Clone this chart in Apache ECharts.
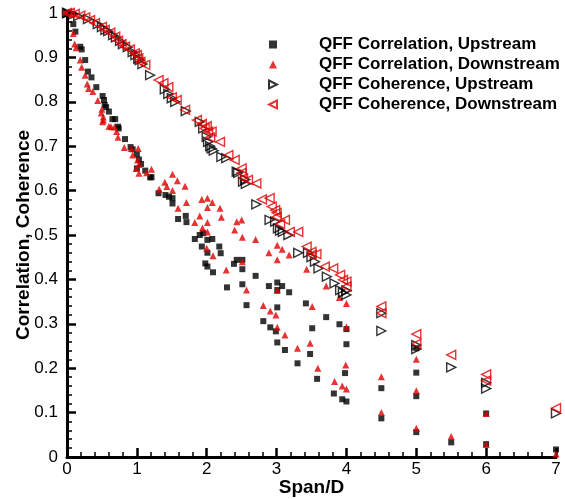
<!DOCTYPE html>
<html>
<head>
<meta charset="utf-8">
<script src="https://cdn.jsdelivr.net/npm/echarts@6/dist/echarts.min.js"></script>
<style>
html,body{margin:0;padding:0;background:#fff;}
#chart{width:565px;height:499px;}
</style>
</head>
<body>
<div id="chart"></div>
<script>
var seriesNames = ['QFF Correlation, Upstream','QFF Correlation, Downstream','QFF Coherence, Upstream','QFF Coherence, Downstream'];
var xTicks = [0,1,2,3,4,5,6,7];

var corrUp = [
[0,1],[0.09,0.975],[0.12,0.958],[0.19,0.924],[0.21,0.918],[0.26,0.894],[0.30,0.868],[0.35,0.855],[0.42,0.833],[0.51,0.813],[0.53,0.804],[0.54,0.793],[0.56,0.788],[0.60,0.778],[0.65,0.761],[0.69,0.761],[0.73,0.744],[0.74,0.740],[0.83,0.716],[0.91,0.698],[0.94,0.693],[1.00,0.682],[1.03,0.670],[1.06,0.660],[1.00,0.650],[1.12,0.645],[1.19,0.630],[1.21,0.630],
[1.31,0.594],[1.41,0.590],[1.46,0.586],[1.51,0.583],[1.51,0.571],[1.59,0.536],[1.70,0.543],[1.71,0.529],[1.83,0.491],[1.90,0.500],[1.95,0.504],[2.08,0.491],[2.01,0.489],[1.93,0.474],[2.18,0.474],[2.01,0.460],[2.20,0.459],[1.98,0.436],[2.01,0.429],[2.09,0.416],[2.43,0.444],[2.39,0.435],[2.51,0.444],[2.51,0.423],
[2.70,0.408],[2.51,0.389],[2.29,0.382],[2.89,0.385],[3.01,0.393],[3.08,0.385],[3.01,0.376],[3.18,0.371],[2.57,0.342],[3.01,0.337],[3.42,0.346],[2.81,0.306],[2.91,0.292],[2.99,0.283],[3.01,0.258],[3.12,0.241],[3.30,0.211],[3.48,0.232],[3.51,0.290],[3.71,0.315],[3.90,0.299],[4.00,0.288],[4.00,0.254],[3.98,0.189],[3.58,0.176],[3.82,0.143],[3.94,0.130],[4.00,0.125],
[4.5,0.155],[4.5,0.087],[5,0.245],[5,0.19],[5,0.137],[5,0.056],[5.5,0.033],[6,0.098],[6,0.029],[7,0.017]
];

var corrDown = [
[0,1],[0.09,0.954],[0.11,0.930],[0.13,0.922],[0.19,0.894],[0.21,0.878],[0.26,0.860],[0.29,0.840],[0.31,0.830],[0.37,0.823],[0.44,0.803],[0.50,0.783],[0.49,0.775],[0.52,0.766],[0.52,0.759],[0.51,0.755],[0.60,0.745],[0.63,0.744],[0.68,0.743],[0.71,0.733],[0.73,0.720],[0.82,0.697],[0.92,0.695],[1.02,0.695],[0.94,0.680],[1.01,0.669],[1.03,0.659],[0.99,0.650],[1.03,0.639],[1.14,0.640],[1.21,0.648],
[1.32,0.603],[1.40,0.619],[1.43,0.609],[1.51,0.637],[1.51,0.600],[1.58,0.622],[1.69,0.610],[1.59,0.560],[1.71,0.573],[1.83,0.528],[1.90,0.543],[1.93,0.580],[2.01,0.583],[2.08,0.573],[2.01,0.562],[2.19,0.560],[2.21,0.540],[2.01,0.528],[1.94,0.516],[2.01,0.507],[2.43,0.530],[2.50,0.534],[2.40,0.511],[2.51,0.495],[2.00,0.470],[2.09,0.453],[2.28,0.421],[2.51,0.440],[2.70,0.490],[2.57,0.376],
[2.89,0.460],[3.01,0.477],[3.08,0.468],[3.01,0.444],[3.18,0.455],[3.43,0.423],[3.71,0.385],[3.90,0.359],[4.00,0.346],[3.01,0.375],[2.81,0.341],[2.91,0.329],[2.99,0.320],[3.01,0.292],[3.12,0.275],[3.30,0.245],[3.48,0.256],[3.51,0.339],[3.59,0.200],[4.00,0.293],[3.99,0.207],[3.83,0.170],[3.94,0.160],[4.00,0.153],
[4.5,0.181],[4.5,0.100],[5,0.22],[5,0.149],[5,0.065],[5.5,0.046],[6,0.098],[6,0.028],[7,0.007]
];

var cohUp = [
[0,1],[0.01,1.0],[0.09,0.997],[0.16,0.993],[0.30,0.986],[0.44,0.975],[0.50,0.968],[0.55,0.962],[0.59,0.959],[0.66,0.950],[0.70,0.945],[0.76,0.937],[0.80,0.930],[0.87,0.923],[0.94,0.912],[0.98,0.905],[1.02,0.897],[1.04,0.894],[1.08,0.885],[1.19,0.860],[1.40,0.828],[1.45,0.818],[1.50,0.808],[1.55,0.800],[1.70,0.779],[1.90,0.755],[1.95,0.740],[2.00,0.721],[2.02,0.710],[2.05,0.700],[2.07,0.695],[2.10,0.690],[2.21,0.676],[2.28,0.673],[2.43,0.643],[2.45,0.640],[2.52,0.620],[2.55,0.625],[2.56,0.615],[2.71,0.569],[2.90,0.534],[2.98,0.530],[3.02,0.515],[3.05,0.510],[3.09,0.507],[3.17,0.500],[3.31,0.460],[3.45,0.460],[3.50,0.450],[3.55,0.440],[3.60,0.425],[3.72,0.406],[3.83,0.391],[3.91,0.376],[3.95,0.370],[4.00,0.365],[4.00,0.375],
[4.5,0.324],[4.5,0.284],[5,0.252],[5,0.243],[5.5,0.202],[6,0.167],[6,0.154],[7,0.098]
];

var cohDown = [
[0,1],[0.04,1.0],[0.11,0.998],[0.19,0.994],[0.26,0.990],[0.33,0.984],[0.40,0.977],[0.50,0.969],[0.54,0.962],[0.62,0.956],[0.69,0.947],[0.73,0.938],[0.78,0.930],[0.83,0.924],[0.90,0.918],[0.97,0.909],[1.00,0.905],[1.02,0.898],[1.05,0.890],[1.12,0.883],[1.31,0.849],[1.38,0.842],[1.45,0.833],[1.50,0.810],[1.57,0.804],[1.69,0.782],[1.86,0.759],[1.93,0.750],[1.97,0.740],[2.00,0.745],[2.02,0.733],[2.05,0.720],[2.07,0.733],[2.19,0.710],[2.31,0.680],[2.40,0.669],[2.50,0.650],[2.50,0.640],[2.52,0.628],[2.59,0.624],[2.71,0.616],[2.79,0.580],[2.90,0.583],[2.93,0.564],[2.98,0.556],[3.00,0.541],[3.00,0.550],[3.05,0.525],[3.12,0.534],[3.19,0.507],[3.31,0.507],[3.43,0.474],[3.50,0.462],[3.50,0.455],[3.57,0.457],[3.69,0.429],[3.81,0.425],[3.91,0.410],[3.95,0.399],[4.00,0.395],[4.00,0.384],
[4.5,0.339],[4.5,0.324],[5,0.277],[5,0.255],[5.5,0.23],[6,0.186],[6,0.172],[7,0.11]
];

var RED = '#e00000';
var FONT = '"Liberation Sans", Arial, Helvetica, sans-serif';
var RIGHT_TRI = 'path://M0,0 L10,5 L0,10 Z';
var LEFT_TRI = 'path://M10,0 L0,5 L10,10 Z';

var chart = echarts.init(document.getElementById('chart'), null, {renderer:'canvas'});
var axisCommon = {
  type:'value',
  splitLine:{show:false},
  axisLine:{show:true, onZero:false, lineStyle:{color:'#000', width:3}},
  axisTick:{show:true, inside:true, length:9, lineStyle:{color:'#000', width:2.5}},
  minorTick:{show:true, splitNumber:5, length:5, lineStyle:{color:'#000', width:1.5}},
  axisLabel:{color:'#000', fontSize:17, fontFamily:FONT},
  nameLocation:'middle',
  nameMoveOverlap:false,
  nameTextStyle:{color:'#000', fontSize:19, fontWeight:'bold', fontFamily:FONT}
};
var option = {
  animation:false,
  backgroundColor:'#fff',
  grid:{left:67, right:9, top:13, bottom:42, containLabel:false, outerBoundsMode:'none'},
  xAxis: Object.assign({}, axisCommon, {
    min:xTicks[0], max:xTicks[xTicks.length-1], interval:1,
    name:'Span/D', nameGap:21,
    axisLabel:Object.assign({}, axisCommon.axisLabel, {margin:4})
  }),
  yAxis: Object.assign({}, axisCommon, {
    min:0, max:1, interval:0.1,
    name:'Correlation, Coherence', nameGap:34,
    axisLabel:Object.assign({}, axisCommon.axisLabel, {margin:9})
  }),
  legend:{
    orient:'vertical', left:263, top:31,
    itemWidth:8, itemHeight:8, itemGap:3,
    textStyle:{fontSize:17, fontWeight:'bold', fontFamily:FONT, color:'#000', padding:[0,0,0,37]},
    data:[
      {name:seriesNames[0]},
      {name:seriesNames[1]},
      {name:seriesNames[2], icon:RIGHT_TRI},
      {name:seriesNames[3], icon:LEFT_TRI}
    ]
  },
  series:[
    {name:seriesNames[0], type:'scatter', data:corrUp, symbol:'rect', symbolSize:6,
     itemStyle:{color:'#000'}},
    {name:seriesNames[1], type:'scatter', data:corrDown, symbol:'triangle', symbolSize:7,
     itemStyle:{color:RED}},
    {name:seriesNames[2], type:'scatter', data:cohUp, symbol:'triangle', symbolSize:9, symbolRotate:-90,
     itemStyle:{color:'rgba(255,255,255,0)', borderColor:'#000', borderWidth:1.4}},
    {name:seriesNames[3], type:'scatter', data:cohDown, symbol:'triangle', symbolSize:9, symbolRotate:90,
     itemStyle:{color:'rgba(255,255,255,0)', borderColor:RED, borderWidth:1.4}}
  ]
};
chart.setOption(option);
</script>
</body>
</html>
